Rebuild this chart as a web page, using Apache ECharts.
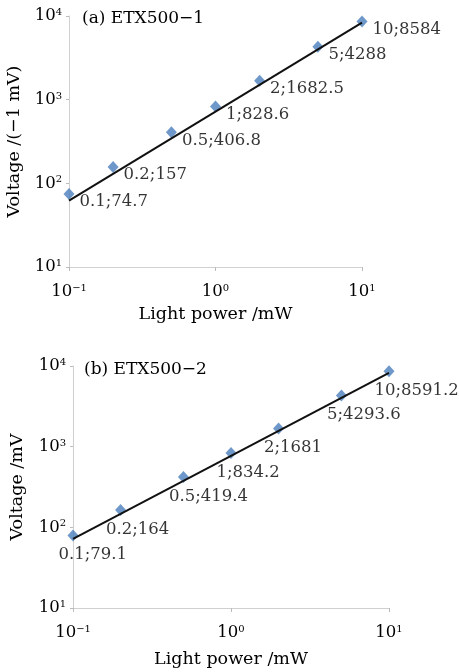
<!DOCTYPE html>
<html>
<head>
<meta charset="utf-8">
<script src="https://cdn.jsdelivr.net/npm/echarts@6/dist/echarts.min.js"></script>
<style>html,body{margin:0;padding:0;background:#fff;}#c{width:459px;height:672px;}</style>
</head>
<body>
<div id="c"></div>
<script>
// Data
var powerA = [0.1, 0.2, 0.5, 1, 2, 5, 10];
var voltA = [74.7, 157, 406.8, 828.6, 1682.5, 4288, 8584];
var powerB = [0.1, 0.2, 0.5, 1, 2, 5, 10];
var voltB = [79.1, 164, 419.4, 834.2, 1681, 4293.6, 8591.2];
var fitX = [0.1, 10];
var fitA = [62, 8350];
var fitB = [72, 8200];
var panelTitles = ['(a) ETX500\u22121', '(b) ETX500\u22122'];
var xName = 'Light power /mW';
var yNames = ['Voltage /(\u22121 mV)', 'Voltage /mV'];

var FONT = 'DejaVu Serif';
var INK = '#000';
function pairs(xs, ys) { return xs.map(function (x, i) { return [x, ys[i]]; }); }
function fmtLabel(xs, ys) { return xs.map(function (x, i) { return x + ';' + ys[i]; }); }
function supFmt(v) {
  var e = Math.round(Math.log10(v));
  return '10{s|' + (e < 0 ? '\u2212' + (-e) : e) + '}';
}
var tickRich = {
  s: { fontSize: 10, fontFamily: FONT, color: INK, verticalAlign: 'top', padding: [0, 0, 7, 0] }
};
function xAxis(gi, gap) {
  return {
    type: 'log', logBase: 10, gridIndex: gi, min: 0.1, max: 10,
    name: xName, nameLocation: 'middle', nameGap: gap,
    nameTextStyle: { fontFamily: FONT, fontSize: 17.5, color: INK },
    axisLine: { lineStyle: { color: '#d0d0d0', width: 1 } },
    axisTick: { show: true, length: 4, lineStyle: { color: '#bbb' } },
    minorTick: { show: false },
    splitLine: { show: false },
    axisLabel: { formatter: supFmt, fontFamily: FONT, fontSize: 16.5, color: INK, margin: 16, rich: tickRich }
  };
}
function yAxis(gi, nm, gap) {
  return {
    type: 'log', logBase: 10, gridIndex: gi, min: 10, max: 10000,
    name: nm, nameLocation: 'middle', nameGap: gap, nameRotate: 90,
    nameTextStyle: { fontFamily: FONT, fontSize: 17.5, color: INK },
    axisLine: { show: true, lineStyle: { color: '#d0d0d0', width: 1 } },
    axisTick: { show: true, length: 3, lineStyle: { color: '#bbb' } },
    splitLine: { show: false },
    axisLabel: { formatter: supFmt, fontFamily: FONT, fontSize: 16.5, color: INK, margin: 7, rich: tickRich }
  };
}
var labelsA = fmtLabel(powerA, voltA);
var labelsB = fmtLabel(powerB, voltB);

var chart = echarts.init(document.getElementById('c'));
chart.setOption({
  animation: false,
  backgroundColor: '#fff',
  title: [
    { text: panelTitles[0], left: 77, top: 5, textStyle: { fontFamily: FONT, fontSize: 17, fontWeight: 'normal', color: INK } },
    { text: panelTitles[1], left: 79, top: 356, textStyle: { fontFamily: FONT, fontSize: 17, fontWeight: 'normal', color: INK } }
  ],
  grid: [
    { left: 69, top: 16, width: 293, height: 251, containLabel: false, outerBoundsMode: 'none' },
    { left: 73, top: 366, width: 316, height: 242, containLabel: false, outerBoundsMode: 'none' }
  ],
  xAxis: [xAxis(0, 38), xAxis(1, 42)],
  yAxis: [yAxis(0, yNames[0], 43), yAxis(1, yNames[1], 47)],
  series: [
    {
      type: 'scatter', xAxisIndex: 0, yAxisIndex: 0, data: pairs(powerA, voltA),
      symbol: 'diamond', symbolSize: [11, 12], itemStyle: { color: '#4a7ebb' }, z: 2,
      label: {
        show: true, position: 'right', distance: 5, offset: [0, 8],
        fontFamily: FONT, fontSize: 16.5, color: INK,
        formatter: function (p) { return labelsA[p.dataIndex]; }
      }
    },
    {
      type: 'line', xAxisIndex: 0, yAxisIndex: 0, data: pairs(fitX, fitA),
      showSymbol: false, lineStyle: { color: '#111', width: 2 }, z: 3, silent: true
    },
    {
      type: 'scatter', xAxisIndex: 1, yAxisIndex: 1, data: pairs(powerB, voltB),
      symbol: 'diamond', symbolSize: [11, 12], itemStyle: { color: '#4a7ebb' }, z: 2,
      label: {
        show: true, position: [-9, 17], align: 'left', verticalAlign: 'top',
        fontFamily: FONT, fontSize: 16.5, color: INK,
        formatter: function (p) { return labelsB[p.dataIndex]; }
      }
    },
    {
      type: 'line', xAxisIndex: 1, yAxisIndex: 1, data: pairs(fitX, fitB),
      showSymbol: false, lineStyle: { color: '#111', width: 2 }, z: 3, silent: true
    }
  ]
});
</script>
</body>
</html>
